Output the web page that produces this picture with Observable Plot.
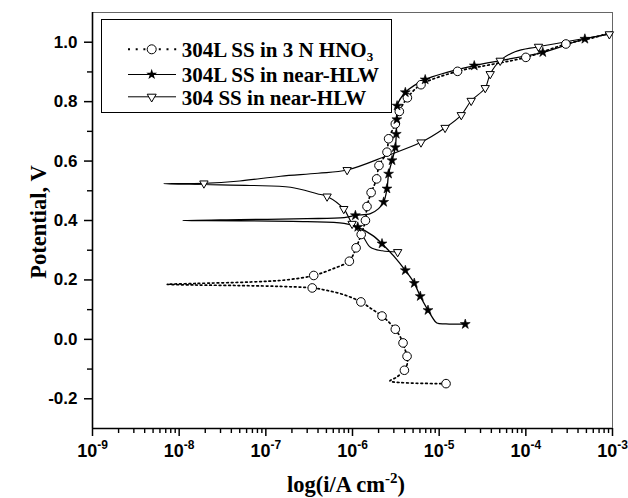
<!DOCTYPE html>
<html>
<head>
<meta charset="utf-8">
<script src="https://cdn.jsdelivr.net/npm/d3@7"></script>
<script src="https://cdn.jsdelivr.net/npm/@observablehq/plot@0.6"></script>
<style>
  html, body { margin: 0; padding: 0; background: #fff; }
  #chart svg { display: block; }
</style>
</head>
<body>
<div id="chart"></div>
<script>
// ---- axes ----
const xDomain = [1e-9, 1e-3];
const yDomain = [-0.3, 1.1];
const xMajor = [1e-9, 1e-8, 1e-7, 1e-6, 1e-5, 1e-4, 1e-3];
const xMinorMultipliers = [2, 3, 4, 5, 6, 7, 8, 9];
const yMajor = [-0.2, 0.0, 0.2, 0.4, 0.6, 0.8, 1.0];
const yMinor = [-0.1, 0.1, 0.3, 0.5, 0.7, 0.9];
const xTitle = ["log(i/A cm", "-2", ")"];
const yTitle = "Potential, V";

// ---- series: [current density (A/cm2), potential (V), marker?] ----
const hno3_304L = [
  [1.2e-5, -0.149, 1], [2.7e-6, -0.140, 0], [3.2e-6, -0.128, 0], [3.97e-6, -0.104, 1],
  [4.3e-6, -0.080, 0], [4.26e-6, -0.057, 1], [4.05e-6, -0.035, 0], [3.83e-6, -0.012, 1],
  [3.5e-6, 0.012, 0], [3.12e-6, 0.034, 1], [2.65e-6, 0.057, 0], [2.19e-6, 0.0785, 1],
  [1.65e-6, 0.103, 0], [1.25e-6, 0.126, 1], [8e-7, 0.150, 0], [5e-7, 0.165, 0],
  [3.43e-7, 0.173, 1], [1.5e-7, 0.178, 0], [5e-8, 0.181, 0], [1.5e-8, 0.183, 0],
  [7.3e-9, 0.185, 0], [1.5e-8, 0.188, 0], [6.7e-8, 0.193, 0], [1.7e-7, 0.200, 0],
  [3.57e-7, 0.215, 1], [6e-7, 0.238, 0], [9.2e-7, 0.263, 1], [1.02e-6, 0.285, 0],
  [1.1e-6, 0.308, 1], [1.26e-6, 0.353, 1], [1.41e-6, 0.400, 1], [1.47e-6, 0.447, 1],
  [1.64e-6, 0.494, 1], [1.9e-6, 0.540, 1], [2.02e-6, 0.585, 1], [2.5e-6, 0.630, 1],
  [2.61e-6, 0.675, 1], [3.12e-6, 0.725, 1], [3.47e-6, 0.767, 1], [4.3e-6, 0.813, 1],
  [6.17e-6, 0.857, 1], [1.63e-5, 0.902, 1], [4e-5, 0.925, 0], [1e-4, 0.949, 1],
  [2.9e-4, 0.994, 1], [6e-4, 1.015, 0], [1e-3, 1.035, 0]
];
const hlw_304L = [
  [2e-5, 0.051, 1], [1.2e-5, 0.052, 0], [9.4e-6, 0.055, 0], [8.3e-6, 0.075, 0],
  [7.43e-6, 0.098, 1], [6.05e-6, 0.145, 1], [5.16e-6, 0.189, 1], [4.07e-6, 0.232, 1],
  [3e-6, 0.280, 0], [2.19e-6, 0.322, 1], [1.7e-6, 0.350, 0], [1.15e-6, 0.378, 1],
  [8e-7, 0.390, 0], [3e-7, 0.396, 0], [5e-8, 0.399, 0], [1.09e-8, 0.400, 0],
  [5e-8, 0.403, 0], [3e-7, 0.406, 0], [8e-7, 0.410, 0], [1.08e-6, 0.417, 1],
  [1.61e-6, 0.423, 0], [2.0e-6, 0.440, 0], [2.29e-6, 0.462, 1], [2.5e-6, 0.507, 1],
  [2.61e-6, 0.557, 1], [2.86e-6, 0.602, 1], [3.12e-6, 0.646, 1], [3.2e-6, 0.691, 1],
  [3.25e-6, 0.740, 1], [3.27e-6, 0.786, 1], [4.07e-6, 0.831, 1], [6.9e-6, 0.874, 1],
  [2.54e-5, 0.921, 1], [1.57e-4, 0.966, 1], [4.8e-4, 1.011, 1], [1e-3, 1.030, 0]
];
const hlw_304 = [
  [3.32e-6, 0.294, 1], [2.2e-6, 0.298, 0], [1.61e-6, 0.310, 0], [1.3e-6, 0.350, 0],
  [9.9e-7, 0.389, 1], [7.93e-7, 0.439, 1], [5.09e-7, 0.481, 1], [3.9e-7, 0.490, 0],
  [1.93e-7, 0.512, 0], [6.67e-8, 0.518, 0], [1.93e-8, 0.521, 0], [6.6e-9, 0.524, 0],
  [1.93e-8, 0.525, 1], [5e-8, 0.533, 0], [1.48e-7, 0.549, 0], [4e-7, 0.559, 0],
  [8.67e-7, 0.570, 1], [2.5e-6, 0.618, 0], [6.17e-6, 0.663, 1], [1.17e-5, 0.712, 1],
  [1.8e-5, 0.755, 1], [2.34e-5, 0.803, 1], [3.4e-5, 0.846, 1], [3.88e-5, 0.893, 1],
  [5.06e-5, 0.938, 1], [7.5e-5, 0.968, 0], [1.4e-4, 0.985, 1], [9.2e-4, 1.027, 1]
];

const legendLabels = ["304L SS in 3 N HNO", "304L SS in near-HLW", "304 SS in near-HLW"];
const legendSub = "3";

// ---- build ----
const xMinor = [];
xMajor.slice(0, -1).forEach(d => xMinorMultipliers.forEach(k => xMinor.push(k * d)));

const X = d => d[0], Y = d => d[1];
const mk = s => s.filter(d => d[2] === 1);
const sans = "Liberation Sans, Arial, sans-serif";

const plot = Plot.plot({
  width: 628,
  height: 498,
  marginLeft: 92,
  marginRight: 16,
  marginTop: 12,
  marginBottom: 70,
  x: {type: "log", domain: xDomain},
  y: {domain: yDomain},
  style: {background: "white", color: "black", overflow: "visible"},
  marks: [
    Plot.frame({stroke: "#666", strokeWidth: 1}),
    Plot.axisY(yMinor, {tickSize: 5, strokeWidth: 1.4, tickFormat: () => "", label: null}),
    Plot.axisY(yMajor, {tickSize: 8, tickPadding: 7, strokeWidth: 1.5, tickFormat: d => d.toFixed(1), label: null,
      fontSize: 17, fontWeight: "bold", fontFamily: sans}),
    Plot.axisX(xMinor, {tickSize: 5, strokeWidth: 1.4, tickFormat: () => "", label: null}),
    Plot.axisX(xMajor, {tickSize: 8, tickPadding: 8, strokeWidth: 1.5, tickFormat: d => String(Math.round(Math.log10(d))), label: null,
      fontSize: 18, fontWeight: "bold", fontFamily: sans}),
    Plot.ruleX([xDomain[0]], {stroke: "black", strokeWidth: 1.6}),
    Plot.ruleY([yDomain[0]], {stroke: "black", strokeWidth: 1.6}),
    Plot.line(hlw_304, {x: X, y: Y, curve: "catmull-rom", stroke: "black", strokeWidth: 1.1}),
    Plot.line(hlw_304L, {x: X, y: Y, curve: "catmull-rom", stroke: "black", strokeWidth: 1.3}),
    Plot.line(hno3_304L, {x: X, y: Y, curve: "catmull-rom", stroke: "black", strokeWidth: 1.7, strokeDasharray: "1.7,3"}),
    Plot.dot(mk(hlw_304), {x: X, y: Y, symbol: "triangle2", rotate: 180, r: 4, fill: "white", stroke: "black", strokeWidth: 1}),
    Plot.dot(mk(hno3_304L), {x: X, y: Y, symbol: "circle", r: 4.3, fill: "white", stroke: "black", strokeWidth: 1}),
    Plot.dot(mk(hlw_304L), {x: X, y: Y, symbol: "star", r: 3.1, fill: "black", stroke: "black", strokeWidth: 0.6})
  ]
});

document.getElementById("chart").appendChild(plot);

const svg = d3.select(plot);

// superscript exponents on x tick labels
svg.selectAll('g[aria-label="x-axis tick label"] text').each(function() {
  const t = d3.select(this);
  const e = t.text();
  if (!e) return;
  t.text(null);
  t.append("tspan").text("10");
  t.append("tspan").attr("dy", -8).attr("font-size", 12).text(e);
});

const serif = "Liberation Serif, Times New Roman, serif";

// axis titles
svg.append("text")
  .attr("transform", "translate(46,222) rotate(-90)")
  .attr("text-anchor", "middle")
  .attr("font-family", serif).attr("font-weight", "bold").attr("font-size", 22.5)
  .attr("fill", "black")
  .text(yTitle);

const xt = svg.append("text")
  .attr("x", 346).attr("y", 492)
  .attr("text-anchor", "middle")
  .attr("font-family", serif).attr("font-weight", "bold").attr("font-size", 22.5)
  .attr("fill", "black");
xt.append("tspan").text(xTitle[0]);
xt.append("tspan").attr("dy", -9).attr("font-size", 15).text(xTitle[1]);
xt.append("tspan").attr("dy", 9).text(xTitle[2]);

// legend
const lg = svg.append("g");
lg.append("rect").attr("x", 101.5).attr("y", 19.5).attr("width", 290).attr("height", 93)
  .attr("fill", "white").attr("stroke", "black").attr("stroke-width", 1);
const rows = [49.3, 74.5, 96.8];
const base = [56.7, 81.7, 105];
// row 1: dotted + circle
lg.append("line").attr("x1", 128).attr("x2", 177).attr("y1", rows[0]).attr("y2", rows[0])
  .attr("stroke", "black").attr("stroke-width", 2).attr("stroke-dasharray", "2,5.7");
lg.append("circle").attr("cx", 151.7).attr("cy", rows[0]).attr("r", 4.5)
  .attr("fill", "white").attr("stroke", "black");
// row 2: line + star
lg.append("line").attr("x1", 128).attr("x2", 176).attr("y1", rows[1]).attr("y2", rows[1])
  .attr("stroke", "black").attr("stroke-width", 1.2);
lg.append("path").attr("transform", `translate(151.7,${rows[1]})`)
  .attr("d", d3.symbol(d3.symbolStar, 3.4 * 3.4 * Math.PI)()).attr("fill", "black");
// row 3: line + down triangle
lg.append("line").attr("x1", 128).attr("x2", 176).attr("y1", rows[2]).attr("y2", rows[2])
  .attr("stroke", "black").attr("stroke-width", 1);
lg.append("path").attr("transform", `translate(151.7,${rows[2]}) rotate(180)`)
  .attr("d", d3.symbol(d3.symbolTriangle2, 4.3 * 4.3 * Math.PI)()).attr("fill", "white").attr("stroke", "black");

legendLabels.forEach((lab, i) => {
  const t = lg.append("text").attr("x", 181.7).attr("y", base[i])
    .attr("text-anchor", "start")
    .attr("font-family", serif).attr("font-weight", "bold").attr("font-size", 21).attr("fill", "black");
  t.append("tspan").text(lab);
  if (i === 0) t.append("tspan").attr("dy", 4).attr("font-size", 13).text(legendSub);
});
</script>
</body>
</html>
